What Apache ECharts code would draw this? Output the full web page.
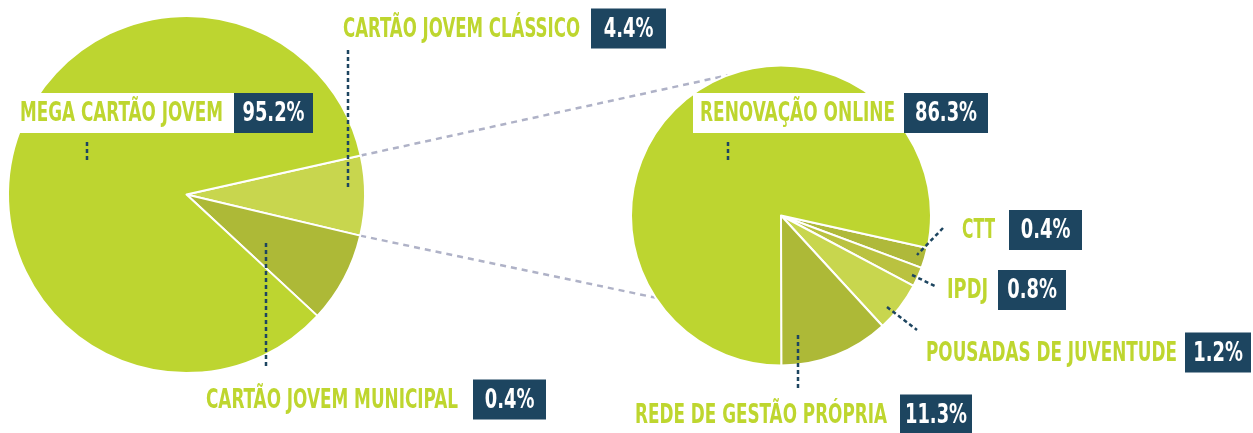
<!DOCTYPE html>
<html>
<head>
<meta charset="utf-8">
<script src="https://cdn.jsdelivr.net/npm/echarts@6/dist/echarts.min.js"></script>
<style>
  html, body { margin: 0; padding: 0; background: #fff; }
  #chart { width: 1253px; height: 433px; }
</style>
</head>
<body>
<div id="chart"></div>
<script>
  // left pie: card types
  const leftNames = ['CARTÃO JOVEM CLÁSSICO', 'CARTÃO JOVEM MUNICIPAL', 'MEGA CARTÃO JOVEM'];
  const leftShares = [7.2, 8.2, 84.6]; // slice sizes as drawn
  const leftPct = ['4.4%', '0.4%', '95.2%'];

  // right pie: renewal channels
  const rightNames = ['CTT', 'IPDJ', 'POUSADAS DE JUVENTUDE', 'REDE DE GESTÃO PRÓPRIA', 'RENOVAÇÃO ONLINE'];
  const rightShares = [2.2, 2.1, 5.4, 11.8, 78.5];
  const rightPct = ['0.4%', '0.8%', '1.2%', '11.3%', '86.3%'];

  const green = '#bed62f';
  const navy = '#1d4560';
  const fontName = '"DejaVu Sans Condensed", "Liberation Sans", sans-serif';
  const font = 'bold 26.5px ' + fontName;

  const leftColors = ['#c8d64e', '#adb937', '#bdd530'];
  const rightColors = ['#afb93a', '#bac240', '#c8d64e', '#adb937', '#bdd530'];

  const leftC = [186.5, 194.5], leftR = 178.5, leftStart = 12.6;
  const rightC = [781, 215.5], rightR = 150, rightStart = -12.5;

  // label layout: [text left, text right, box left, box right, middle y]
  const leftLabelPos = [[343, 580, 591, 666, 28.5], [206, 458, 473, 546, 399.5], [20, 223, 234, 313, 113]];
  const leftLeaders = [
    [[348, 50], [348, 190]],
    [[266, 243], [266, 368]],
    [[87, 142], [87, 163]]
  ];
  const rightLabelPos = [
    [962, 995, 1009, 1082, 230],
    [947, 988, 998, 1066, 290],
    [926, 1177, 1185, 1251, 352.5],
    [635, 887, 900, 972, 414.5],
    [700, 895, 904, 988, 113]
  ];
  const rightLeaders = [
    [[943, 228], [917, 255]],
    [[912, 275], [935, 286]],
    [[887, 307], [917, 330]],
    [[798, 335], [798, 390]],
    [[728, 142], [728, 163]]
  ];

  const ctx = document.createElement('canvas').getContext('2d');
  ctx.font = font;
  const textW = s => ctx.measureText(s).width;
  const pctScale = 62 / textW('95.2%');

  function labelGraphics(names, pct, pos, leaders) {
    const out = [];
    names.forEach((name, i) => {
      const [tl, tr, bl, br, cy] = pos[i];
      const sx = (tr - tl) / textW(name);
      out.push({ type: 'rect', z: 10, shape: { x: tl - 7, y: cy - 20, width: bl - tl + 7, height: 40 }, style: { fill: '#fff' } });
      out.push({ type: 'text', z: 11, x: tl, y: cy + 1.5, scaleX: sx,
        style: { text: name, font: font, fill: green, align: 'left', verticalAlign: 'middle' } });
      out.push({ type: 'rect', z: 10, shape: { x: bl, y: cy - 20, width: br - bl, height: 40 }, style: { fill: navy } });
      out.push({ type: 'text', z: 11, x: (bl + br) / 2, y: cy + 1.5, scaleX: pctScale,
        style: { text: pct[i], font: font, fill: '#fff', align: 'center', verticalAlign: 'middle' } });
      const l = leaders[i];
      out.push({ type: 'line', z: 9, shape: { x1: l[0][0], y1: l[0][1], x2: l[1][0], y2: l[1][1] },
        style: { stroke: navy, lineWidth: 2.5, lineDash: [4, 3] } });
    });
    return out;
  }

  function pieSeries(names, shares, colors, center, r, start) {
    return {
      type: 'pie',
      center: center,
      radius: [0, r],
      startAngle: start,
      clockwise: true,
      animation: false,
      silent: true,
      label: { show: false },
      labelLine: { show: false },
      itemStyle: { borderColor: '#fff', borderWidth: 2 },
      data: names.map((n, i) => ({
        name: n,
        value: shares[i],
        itemStyle: { color: colors[i] }
      }))
    };
  }

  // connector lines from the left pie's small slices to the right pie
  function onCircle(c, r, deg) {
    const a = deg * Math.PI / 180;
    return [c[0] + r * Math.cos(a), c[1] - r * Math.sin(a)];
  }
  const pA = onCircle(leftC, leftR, leftStart);
  const pB = onCircle(leftC, leftR, leftStart - leftShares[0] * 3.6);
  const qA = onCircle(rightC, rightR, 110.8);
  const qB = onCircle(rightC, rightR, 213.2);
  const dash = { stroke: '#afb2c7', lineWidth: 2.5, lineDash: [6, 5] };

  const myChart = echarts.init(document.getElementById('chart'), null, { renderer: 'canvas' });
  myChart.setOption({
    animation: false,
    graphic: [
      { type: 'line', z: 0, shape: { x1: pA[0], y1: pA[1], x2: qA[0], y2: qA[1] }, style: dash },
      { type: 'line', z: 0, shape: { x1: pB[0], y1: pB[1], x2: qB[0], y2: qB[1] }, style: dash }
    ].concat(
      labelGraphics(leftNames, leftPct, leftLabelPos, leftLeaders),
      labelGraphics(rightNames, rightPct, rightLabelPos, rightLeaders)
    ),
    series: [
      pieSeries(leftNames, leftShares, leftColors, leftC, leftR, leftStart),
      pieSeries(rightNames, rightShares, rightColors, rightC, rightR, rightStart)
    ]
  });
</script>
</body>
</html>
